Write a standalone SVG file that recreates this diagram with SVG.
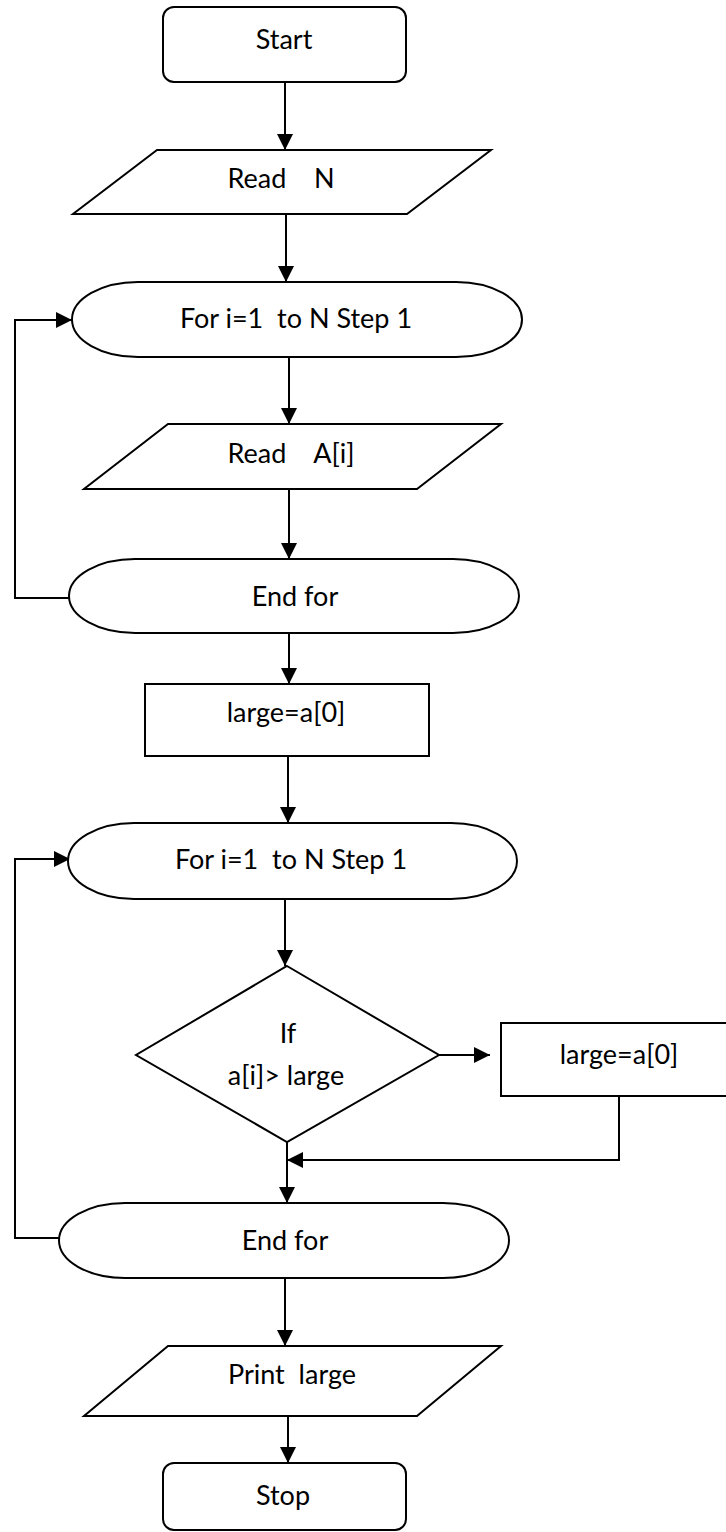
<svg xmlns="http://www.w3.org/2000/svg" width="726" height="1532" viewBox="0 0 726 1532">
  <style>
    .shape { fill: #ffffff; stroke: #000000; stroke-width: 2; }
    .conn { fill: none; stroke: #000000; stroke-width: 2; }
    .label { font-family: "Lato", "Open Sans", "Liberation Sans", sans-serif; font-size: 27px; fill: #000000; text-anchor: middle; white-space: pre; }
  </style>
  <defs>
    <marker id="arrow" markerUnits="userSpaceOnUse" markerWidth="16" markerHeight="16" viewBox="0 0 15 15" refX="15" refY="7.5" orient="auto">
      <path d="M0,0 L15,7.5 L0,15 z" fill="#000000"/>
    </marker>
  </defs>
  <rect width="726" height="1532" fill="#ffffff"/>

  <!-- connectors -->
  <g id="connectors" class="conn" marker-end="url(#arrow)">
    <path d="M285,82 V150"/>
    <path d="M286,214 V282"/>
    <path d="M289,357 V424"/>
    <path d="M289,489 V559"/>
    <path d="M289,633 V684"/>
    <path d="M288,756 V823"/>
    <path d="M285,899 V966"/>
    <path d="M439,1055 H490"/>
    <path d="M619,1096 V1160 H287"/>
    <path d="M287,1142 V1203"/>
    <path d="M285,1278 V1346"/>
    <path d="M288,1416 V1463"/>
    <!-- loop back edges -->
    <path d="M70,598 H15 V320 H72"/>
    <path d="M60,1238 H15 V859 H70"/>
  </g>

  <g id="start">
    <rect class="shape" x="163" y="7" width="243" height="75" rx="11"/>
    <text class="label" x="284" y="49">Start</text>
  </g>

  <g id="read-n">
    <polygon class="shape" points="157,150 491,150 407,214 73,214"/>
    <text class="label" x="281" y="188">Read    N</text>
  </g>

  <g id="for-read">
    <rect class="shape" x="72" y="282" width="450" height="75" rx="66" ry="37.5"/>
    <text class="label" x="296" y="328">For i=1  to N Step 1</text>
  </g>

  <g id="read-a">
    <polygon class="shape" points="168,424 501,424 417,489 84,489"/>
    <text class="label" x="291" y="463">Read    A[i]</text>
  </g>

  <g id="endfor-read">
    <rect class="shape" x="69" y="559" width="450" height="74" rx="66" ry="37"/>
    <text class="label" x="295" y="606">End for</text>
  </g>

  <g id="init-large">
    <rect class="shape" x="145" y="684" width="284" height="72"/>
    <text class="label" x="286" y="722">large=a[0]</text>
  </g>

  <g id="for-scan">
    <rect class="shape" x="68" y="823" width="449" height="76" rx="66" ry="38"/>
    <text class="label" x="291" y="869">For i=1  to N Step 1</text>
  </g>

  <g id="compare">
    <polygon class="shape" points="287,966 439,1055 287,1142 136,1055"/>
    <text class="label" x="288" y="1043">If</text>
    <text class="label" x="286" y="1085">a[i]&gt; large</text>
  </g>

  <g id="update-large">
    <rect class="shape" x="501" y="1023" width="240" height="73"/>
    <text class="label" x="619" y="1064">large=a[0]</text>
  </g>

  <g id="endfor-scan">
    <rect class="shape" x="59" y="1203" width="450" height="75" rx="66" ry="37.5"/>
    <text class="label" x="285" y="1250">End for</text>
  </g>

  <g id="print-large">
    <polygon class="shape" points="168,1346 501,1346 417,1416 84,1416"/>
    <text class="label" x="292" y="1384">Print  large</text>
  </g>

  <g id="stop">
    <rect class="shape" x="163" y="1463" width="243" height="67" rx="11"/>
    <text class="label" x="283" y="1505">Stop</text>
  </g>
</svg>
